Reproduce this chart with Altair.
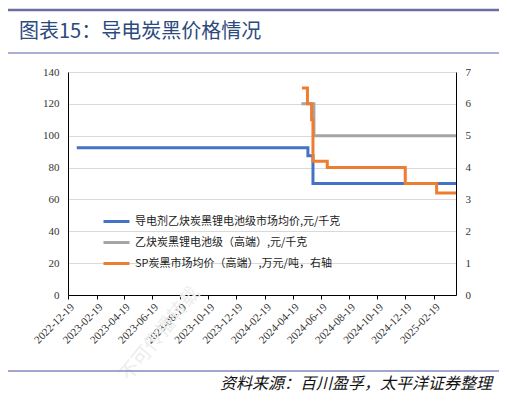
import altair as alt
import pandas as pd

blue_name = "导电剂乙炔炭黑锂电池级市场均价,元/千克"
gray_name = "乙炔炭黑锂电池级（高端）,元/千克"
orange_name = "SP炭黑市场均价（高端）,万元/吨，右轴"

blue_dates = ["2023-01-07", "2024-05-22", "2024-06-02", "2025-04-08"]
blue_vals = [92.5, 87.5, 70, 70]

gray_dates = ["2024-05-08", "2024-06-04", "2025-04-08"]
gray_vals = [120, 100, 100]

orange_dates = ["2024-05-09", "2024-05-21", "2024-05-30", "2024-06-02",
                "2024-07-03", "2024-12-19", "2025-02-25", "2025-04-08"]
orange_vals = [6.5, 6.0, 5.5, 4.2, 4.0, 3.5, 3.2, 3.2]

tick_dates = [(2022, 12, 19), (2023, 2, 19), (2023, 4, 19), (2023, 6, 19),
              (2023, 8, 19), (2023, 10, 19), (2023, 12, 19), (2024, 2, 19),
              (2024, 4, 19), (2024, 6, 19), (2024, 8, 19), (2024, 10, 19),
              (2024, 12, 19), (2025, 2, 19)]
x_start = (2022, 12, 19)
x_end = (2025, 4, 8)

left_ticks = [0, 20, 40, 60, 80, 100, 120, 140]
right_ticks = [0, 1, 2, 3, 4, 5, 6, 7]

title_text = "图表15：导电炭黑价格情况"
source_text = "资料来源：百川盈孚，太平洋证券整理"
watermark_text = "不可传播转载"

series_order = [blue_name, gray_name, orange_name]
series_colors = ["#4472C4", "#A5A5A5", "#ED7D31"]


def frame(dates, vals, name):
    return pd.DataFrame({"date": [d + "T00:00:00" for d in dates],
                         "value": vals, "series": name})


left_df = pd.concat([frame(blue_dates, blue_vals, blue_name),
                     frame(gray_dates, gray_vals, gray_name)], ignore_index=True)
right_df = frame(orange_dates, orange_vals, orange_name)


def dt(t):
    return alt.DateTime(year=t[0], month=t[1], date=t[2])


serif = "Liberation Serif, Times New Roman, serif"
cjk = "Noto Sans CJK SC"

x_enc = alt.X(
    "date:T",
    scale=alt.Scale(domain=[dt(x_start), dt(x_end)], nice=False),
    axis=alt.Axis(values=[dt(t) for t in tick_dates], format="%Y-%m-%d",
                  labelAngle=-45, labelFont=serif, labelFontSize=11,
                  labelColor="#333333", tickSize=4, tickColor="#000000",
                  domainColor="#000000", grid=False, title=None,
                  labelOverlap=False, labelPadding=2),
)

color_enc = alt.Color(
    "series:N",
    scale=alt.Scale(domain=series_order, range=series_colors),
    legend=alt.Legend(orient="none", legendX=34, legendY=135, title=None,
                      symbolType="stroke", symbolStrokeWidth=3, symbolSize=676,
                      labelFont=cjk, labelFontSize=11, labelColor="#222222",
                      rowPadding=0, labelOffset=4, labelLimit=400),
    sort=series_order,
)

left = alt.Chart(left_df).mark_line(interpolate="step-after", strokeWidth=3).encode(
    x=x_enc,
    y=alt.Y("value:Q", scale=alt.Scale(domain=[0, 140], nice=False),
            axis=alt.Axis(values=left_ticks, orient="left", grid=True,
                          gridColor="#d9d9d9", ticks=False, title=None,
                          labelFont=serif, labelFontSize=11, labelColor="#333333",
                          labelPadding=9, domainColor="#000000")),
    color=color_enc,
    detail="series:N",
)

right = alt.Chart(right_df).mark_line(interpolate="step-after", strokeWidth=3).encode(
    x=x_enc,
    y=alt.Y("value:Q", scale=alt.Scale(domain=[0, 7], nice=False),
            axis=alt.Axis(values=right_ticks, orient="right", grid=False,
                          ticks=False, title=None, labelFont=serif,
                          labelFontSize=11, labelColor="#333333",
                          labelPadding=9, domainColor="#000000")),
    color=color_enc,
)

one = alt.Data(values=[{"k": 1}])

watermark = alt.Chart(one).mark_text(
    text=watermark_text, angle=309, fontSize=19, color="#ededed", font=cjk
).encode(x=alt.value(92), y=alt.value(262))

top_rule = alt.Chart(one).mark_rule(color="#6b6f9e", strokeWidth=2.5).encode(
    x=alt.value(-60), x2=alt.value(431), y=alt.value(-62))
mid_rule = alt.Chart(one).mark_rule(color="#8e94c6", strokeWidth=1.3).encode(
    x=alt.value(-60), x2=alt.value(431), y=alt.value(-19))
bot_rule = alt.Chart(one).mark_rule(color="#8088c0", strokeWidth=1.3).encode(
    x=alt.value(-60), x2=alt.value(431), y=alt.value(299))

title = alt.Chart(one).mark_text(
    text=title_text, align="left", baseline="middle", fontSize=20,
    color="#2c4a7e", font=cjk
).encode(x=alt.value(-49), y=alt.value(-40))

source = alt.Chart(one).mark_text(
    text=source_text, align="right", baseline="middle", fontSize=16,
    fontStyle="italic", color="#111111", font=cjk
).encode(x=alt.value(424), y=alt.value(312))

chart = alt.layer(
    watermark, left, right, top_rule, mid_rule, bot_rule, title, source
).resolve_scale(y="independent").properties(
    width=388, height=223,
    autosize=alt.AutoSizeParams(type="none"),
    padding={"left": 60, "top": 64, "right": 43, "bottom": 104},
).configure_view(stroke=None)

chart.save("out.html", embed_options={"renderer": "svg", "actions": False})
